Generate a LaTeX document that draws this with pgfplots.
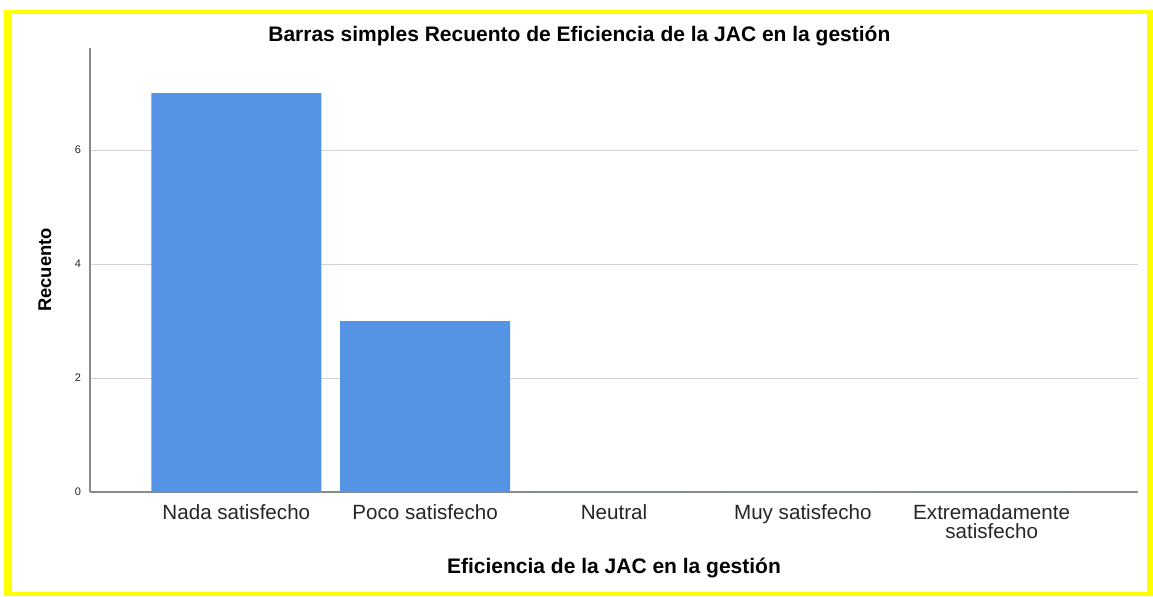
\documentclass[border=0pt]{standalone}
\usepackage{fontspec}
\setmainfont{Liberation Sans}
\usepackage{pgfplots}
\pgfplotsset{compat=1.18}
\definecolor{barblue}{HTML}{5594E4}
\definecolor{axgray}{HTML}{8A8A8A}
\definecolor{gridgray}{HTML}{D2D2D2}
\definecolor{txt}{HTML}{262626}
\definecolor{frameyellow}{HTML}{FFFF00}
\begin{document}
\begin{tikzpicture}
% background, 1 px of the reference = 0.5pt
\fill[white] (-45pt,-52pt) rectangle (531.5pt,246pt);
\begin{axis}[
    at={(0,0)}, anchor=south west,
    scale only axis,
    width=524pt, height=222pt,
    xmin=-0.775, xmax=4.775,
    ymin=0, ymax=7.79,
    ybar, bar width=85pt, bar shift=0pt,
    axis lines*=left,
    axis line style={axgray, line width=0.6pt, -},
    ytick={0,2,4,6},
    ymajorgrids,
    grid style={gridgray, line width=0.5pt},
    xtick={0,1,2,3,4},
    xticklabels={Nada satisfecho, Poco satisfecho, Neutral, Muy satisfecho, {Extremadamente\\satisfecho}},
    xticklabel style={align=center, font=\fontsize{10.3}{9.4}\selectfont, text=txt, yshift=-3pt},
    yticklabel style={font=\fontsize{5.5}{6}\selectfont, text=txt, xshift=-1pt},
    /pgf/number format/assume math mode=true,
    major tick length=0pt,
    title={Barras simples Recuento de Eficiencia de la JAC en la gestión},
    title style={at={(axis description cs:0.467,1.034)}, anchor=center, yshift=-7.5pt, font=\bfseries\fontsize{10.5}{10}\selectfont},
    xlabel={Eficiencia de la JAC en la gestión},
    xlabel style={at={(axis description cs:0.5,-0.171)}, anchor=center, font=\bfseries\fontsize{10.5}{10}\selectfont},
    ylabel={Recuento},
    ylabel style={at={(axis description cs:-0.043,0.5)}, anchor=center, rotate=0, font=\bfseries\fontsize{9.2}{9}\selectfont},
]
\addplot[fill=barblue, draw=none] coordinates {
    (0,7) (1,3) (2,0) (3,0) (4,0)
};
\end{axis}
% yellow frame
\fill[frameyellow] (-43pt,-52pt) rectangle (-39pt,241pt);
\fill[frameyellow] (-43pt,239pt) rectangle (531.5pt,241pt);
\fill[frameyellow] (528.5pt,-52pt) rectangle (531.5pt,241pt);
\fill[frameyellow] (-43pt,-52pt) rectangle (531.5pt,-50pt);
\end{tikzpicture}
\end{document}
